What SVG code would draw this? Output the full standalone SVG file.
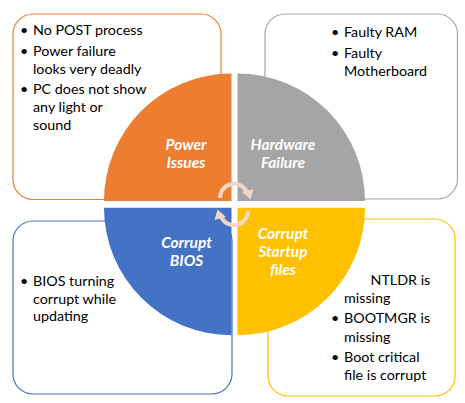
<svg xmlns="http://www.w3.org/2000/svg" width="465" height="403" viewBox="0 0 465 403">
<defs>
<style>
.box{fill:#FFFFFF;stroke-width:1.2}
.t{font-family:Lato,"Liberation Sans",sans-serif;font-size:14.3px;fill:#000000}
.q{font-family:Lato,"Liberation Sans",sans-serif;font-size:15.5px;font-weight:bold;font-style:italic;fill:#FFFFFF;text-anchor:middle}
.arc{fill:none;stroke:#F6D5C9;stroke-width:4}
.head{fill:#F6D5C9}
</style>
</defs>
<rect width="465" height="403" fill="#FFFFFF"/>
<g id="box-power">
<rect class="box" x="13" y="14" width="208" height="185.5" rx="20" stroke="#ED7D31"/>
<text class="t"><tspan x="20" y="35">•</tspan><tspan x="33" y="35">No POST process</tspan><tspan x="20" y="56">•</tspan><tspan x="33" y="56">Power failure</tspan><tspan x="33" y="74">looks very deadly</tspan><tspan x="20" y="94">•</tspan><tspan x="33" y="94">PC does not show</tspan><tspan x="33" y="112">any light or</tspan><tspan x="33" y="130">sound</tspan></text>
</g>
<g id="box-hardware">
<rect class="box" x="265" y="14" width="192.5" height="185" rx="20" stroke="#A5A5A5"/>
<text class="t"><tspan x="331" y="37">•</tspan><tspan x="344" y="37">Faulty RAM</tspan><tspan x="331" y="58">•</tspan><tspan x="344" y="58">Faulty</tspan><tspan x="344" y="76">Motherboard</tspan></text>
</g>
<g id="box-bios">
<rect class="box" x="13" y="221" width="219" height="173" rx="20" stroke="#4472C4"/>
<text class="t"><tspan x="20" y="286">•</tspan><tspan x="33" y="286">BIOS turning</tspan><tspan x="33" y="304">corrupt while</tspan><tspan x="33" y="321">updating</tspan></text>
</g>
<g id="box-startup">
<rect class="box" x="268" y="219" width="187" height="177" rx="20" stroke="#FFC000"/>
<text class="t"><tspan x="370.5" y="285">NTLDR is</tspan><tspan x="344" y="303">missing</tspan><tspan x="331" y="323">•</tspan><tspan x="344" y="323">BOOTMGR is</tspan><tspan x="344" y="342">missing</tspan><tspan x="331" y="362">•</tspan><tspan x="344" y="362">Boot critical</tspan><tspan x="344" y="379.5">file is corrupt</tspan></text>
</g>
<g id="quad-power">
<path d="M231.5,201 L104,201 A127.5,127.5 0 0 1 231.5,73.5 Z" fill="#ED7D31"/>
<text class="q"><tspan x="186" y="150">Power</tspan><tspan x="186" y="168">Issues</tspan></text>
</g>
<g id="quad-hardware">
<path d="M237.5,201 L237.5,73.5 A127.5,127.5 0 0 1 365,201 Z" fill="#A5A5A5"/>
<text class="q"><tspan x="283" y="150">Hardware</tspan><tspan x="283" y="168">Failure</tspan></text>
</g>
<g id="quad-bios">
<path d="M231.5,207.7 L231.5,335.2 A127.5,127.5 0 0 1 104,207.7 Z" fill="#4472C4"/>
<text class="q"><tspan x="186.5" y="248">Corrupt</tspan><tspan x="186.5" y="266">BIOS</tspan></text>
</g>
<g id="quad-startup">
<path d="M237.5,207.7 L365,207.7 A127.5,127.5 0 0 1 237.5,335.2 Z" fill="#FFC000"/>
<text class="q"><tspan x="283" y="239">Corrupt</tspan><tspan x="283" y="257">Startup</tspan><tspan x="283" y="275">files</tspan></text>
</g>
<g id="connectors">
<path class="arc" d="M220,198 A14,14 0 0 1 246.5,191.5"/>
<path class="head" d="M242,192 L253.5,189 L250.5,199.5 Z"/>
<path class="arc" d="M248,211 A14,14 0 0 1 221.5,217.5"/>
<path class="head" d="M226,217 L214.5,220 L217.5,209.5 Z"/>
</g>
</svg>
